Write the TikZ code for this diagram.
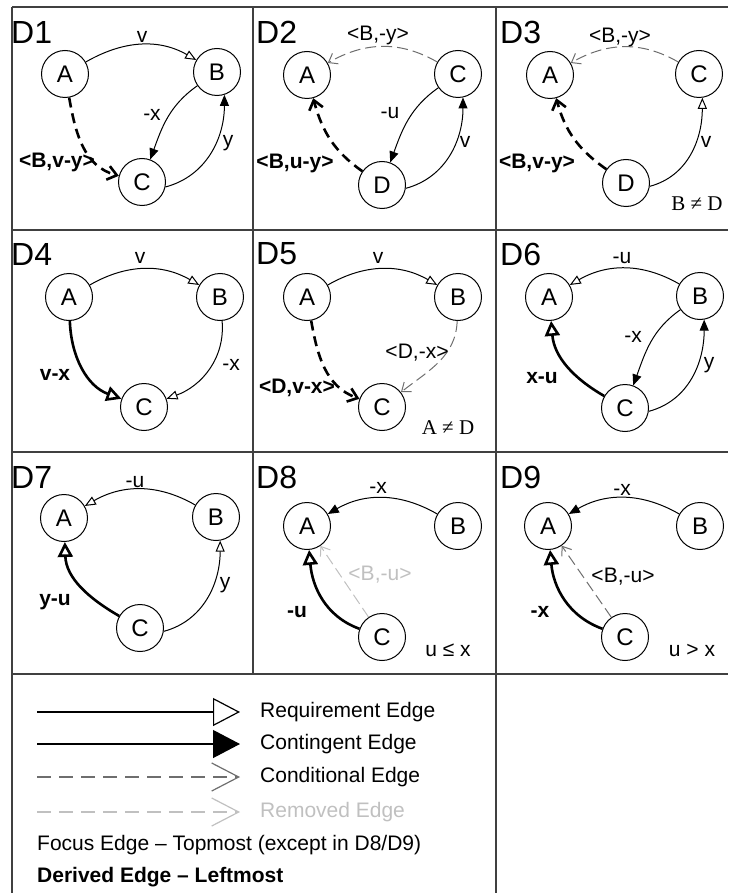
\documentclass[tikz,border=0pt]{standalone}
\usepackage{fontspec}
\setmainfont{Liberation Sans}
\newfontfamily\serifface{Liberation Serif}
\usetikzlibrary{arrows.meta}
\definecolor{framegray}{HTML}{404040}
\definecolor{condgray}{HTML}{6E6E6E}
\definecolor{remgray}{HTML}{C0C0C0}
\begin{document}
\begin{tikzpicture}[x=1pt,y=1pt,
  vtx/.style={circle, draw, line width=1pt, minimum size=47pt, inner sep=0pt, font=\fontsize{24}{26}\selectfont},
  ttl/.style={anchor=west, inner sep=0pt, font=\fontsize{32}{34}\selectfont},
  lab/.style={inner sep=0pt, font=\fontsize{21}{23}\selectfont},
  blab/.style={inner sep=0pt, font=\fontsize{21}{23}\selectfont\bfseries},
  slab/.style={inner sep=0pt, font=\fontsize{21}{23}\serifface},
  legtxt/.style={anchor=west, inner sep=0pt, font=\fontsize{21}{23}\selectfont},
  frameline/.style={draw=framegray, line width=1.4pt},
  reqE/.style={line width=1pt, -{Triangle[open,length=11pt,width=9pt]}},
  contE/.style={line width=1pt, -{Triangle[length=11pt,width=9pt]}},
  condE/.style={line width=1pt, draw=condgray, dash pattern=on 11pt off 5pt, -{Straight Barb[length=8pt,width=12pt]}},
  remE/.style={line width=1pt, draw=remgray, dash pattern=on 11pt off 5pt, -{Straight Barb[length=8pt,width=12pt]}},
  dreqE/.style={line width=2.6pt, -{Triangle[open,length=15pt,width=15pt]}},
  dcondE/.style={line width=2.6pt, dash pattern=on 10pt off 6pt, -{Straight Barb[length=9pt,width=14pt]}}
]
\useasboundingbox (0,0) rectangle (728,-893);

% frame
\coordinate (f1) at (12,-7);   \coordinate (f2) at (728,-7);
\coordinate (f3) at (12,-230); \coordinate (f4) at (728,-230);
\coordinate (f5) at (12,-452); \coordinate (f6) at (728,-452);
\coordinate (f7) at (12,-674); \coordinate (f8) at (728,-674);
\coordinate (f9) at (12,-893);
\coordinate (g1) at (253,-7);  \coordinate (g2) at (253,-674);
\coordinate (g3) at (496,-7);  \coordinate (g4) at (496,-893);
\draw[frameline] (f1) -- (f2);
\draw[frameline] (f3) -- (f4);
\draw[frameline] (f5) -- (f6);
\draw[frameline] (f7) -- (f8);
\draw[frameline] (f1) -- (f9);
\draw[frameline] (g1) -- (g2);
\draw[frameline] (g3) -- (g4);

% titles
\node[ttl] (t1) at (11,-32) {D1};
\node[ttl] (t2) at (256,-32) {D2};
\node[ttl] (t3) at (500,-32) {D3};
\node[ttl] (t4) at (11,-254) {D4};
\node[ttl] (t5) at (256,-254) {D5};
\node[ttl] (t6) at (500,-254) {D6};
\node[ttl] (t7) at (11,-477) {D7};
\node[ttl] (t8) at (256,-477) {D8};
\node[ttl] (t9) at (500,-477) {D9};

% ---------- D1
\node[vtx] (A1) at (65,-74) {A};
\node[vtx] (B1) at (217,-72) {B};
\node[vtx] (C1) at (142,-182) {C};
\draw[reqE] (A1) to[out=30,in=150] (B1);
\draw[contE] (B1) to[out=-145,in=70] (C1);
\draw[contE] (C1.-12) to[out=15,in=-90] (B1.-72);
\draw[dcondE] (A1) to[out=-80,in=165] (C1);
\node[lab] (l1a) at (142,-37) {v};
\node[lab] (l1b) at (152,-115) {-x};
\node[lab] (l1c) at (228,-143) {y};
\node[blab] (l1d) at (57,-162) {<B,v-y>};

% ---------- D2
\node[vtx] (A2) at (307,-75) {A};
\node[vtx] (C2) at (458,-74) {C};
\node[vtx] (D2n) at (382,-185) {D};
\draw[condE] (C2) to[out=150,in=30] (A2);
\draw[contE] (C2) to[out=-145,in=70] (D2n);
\draw[contE] (D2n.-8) to[out=15,in=-90] (C2.-78);
\draw[dcondE] (D2n) to[out=145,in=-75] (A2);
\node[lab] (l2a) at (378,-35) {<B,-y>};
\node[lab] (l2b) at (390,-113) {-u};
\node[lab] (l2c) at (465,-142) {v};
\node[blab] (l2d) at (295,-163) {<B,u-y>};

% ---------- D3
\node[vtx] (A3) at (550,-75) {A};
\node[vtx] (C3) at (699,-74) {C};
\node[vtx] (D3n) at (626,-183) {D};
\draw[condE] (C3) to[out=150,in=30] (A3);
\draw[reqE] (D3n.-8) to[out=15,in=-90] (C3.-82);
\draw[dcondE] (D3n) to[out=145,in=-75] (A3);
\node[lab] (l3a) at (620,-37) {<B,-y>};
\node[lab] (l3b) at (706,-142) {v};
\node[blab] (l3c) at (537,-163) {<B,v-y>};
\node[slab] (l3d) at (697,-204) {B ≠ D};

% ---------- D4
\node[vtx] (A4) at (69,-297) {A};
\node[vtx] (B4) at (220,-297) {B};
\node[vtx] (C4) at (144,-407) {C};
\draw[reqE] (A4) to[out=30,in=150] (B4);
\draw[reqE] (B4) to[out=-85,in=20] (C4);
\draw[dreqE] (A4) to[out=-88,in=160] (C4);
\node[lab] (l4a) at (140,-258) {v};
\node[lab] (l4b) at (231,-365) {-x};
\node[blab] (l4c) at (55,-375) {v-x};

% ---------- D5
\node[vtx] (A5) at (307,-297) {A};
\node[vtx] (B5) at (458,-297) {B};
\node[vtx] (C5) at (382,-407) {C};
\draw[reqE] (A5) to[out=30,in=150] (B5);
\draw[condE] (B5) to[out=-92,in=38] (C5);
\draw[dcondE] (A5) to[out=-80,in=160] (C5);
\node[lab] (l5a) at (378,-258) {v};
\node[lab] (l5b) at (417,-353) {<D,-x>};
\node[blab] (l5c) at (297,-388) {<D,v-x>};
\node[slab] (l5d) at (448,-428) {A ≠ D};

% ---------- D6
\node[vtx] (A6) at (549,-297) {A};
\node[vtx] (B6) at (700,-296) {B};
\node[vtx] (C6) at (625,-408) {C};
\draw[reqE] (B6) to[out=150,in=30] (A6);
\draw[contE] (B6) to[out=-145,in=70] (C6);
\draw[contE] (C6.-8) to[out=15,in=-90] (B6.-80);
\draw[dreqE] (C6) to[out=150,in=-85] (A6);
\node[lab] (l6a) at (622,-258) {-u};
\node[lab] (l6b) at (633,-337) {-x};
\node[lab] (l6c) at (709,-365) {y};
\node[blab] (l6d) at (542,-378) {x-u};

% ---------- D7
\node[vtx] (A7) at (64,-518) {A};
\node[vtx] (B7) at (216,-517) {B};
\node[vtx] (C7) at (140,-628) {C};
\draw[reqE] (B7) to[out=150,in=30] (A7);
\draw[reqE] (C7.-8) to[out=15,in=-90] (B7.-80);
\draw[dreqE] (C7) to[out=150,in=-88] (A7);
\node[lab] (l7a) at (135,-482) {-u};
\node[lab] (l7b) at (225,-585) {y};
\node[blab] (l7c) at (55,-602) {y-u};

% ---------- D8
\node[vtx] (A8) at (307,-526) {A};
\node[vtx] (B8) at (458,-526) {B};
\node[vtx] (C8) at (382,-637) {C};
\draw[contE] (B8) to[out=150,in=30] (A8);
\draw[remE] (C8) -- (A8);
\draw[dreqE] (C8) to[out=160,in=-85] (A8);
\node[lab] (l8a) at (378,-488) {-x};
\node[lab, text=remgray] (l8b) at (380,-575) {<B,-u>};
\node[blab] (l8c) at (297,-612) {-u};
\node[lab] (l8d) at (448,-650) {u ≤ x};

% ---------- D9
\node[vtx] (A9) at (548,-526) {A};
\node[vtx] (B9) at (700,-526) {B};
\node[vtx] (C9) at (625,-637) {C};
\draw[contE] (B9) to[out=150,in=30] (A9);
\draw[condE] (C9) -- (A9);
\draw[dreqE] (C9) to[out=160,in=-85] (A9);
\node[lab] (l9a) at (622,-490) {-x};
\node[lab] (l9b) at (623,-577) {<B,-u>};
\node[blab] (l9c) at (540,-612) {-x};
\node[lab] (l9d) at (692,-650) {u > x};

% ---------- legend
\coordinate (r0) at (37,-712);  \coordinate (r1) at (240,-712);
\coordinate (k0) at (37,-744);  \coordinate (k1) at (240,-744);
\coordinate (c0) at (37,-777);  \coordinate (c1) at (240,-777);
\coordinate (m0) at (37,-812);  \coordinate (m1) at (240,-812);
\draw[line width=1.2pt, -{Triangle[open,length=27pt,width=28pt]}] (r0) -- (r1);
\draw[line width=1.2pt, -{Triangle[length=27pt,width=28pt]}] (k0) -- (k1);
\draw[line width=1.2pt, draw=condgray, dash pattern=on 14pt off 8pt, -{Straight Barb[length=27pt,width=28pt]}] (c0) -- (c1);
\draw[line width=1.2pt, draw=remgray, dash pattern=on 14pt off 8pt, -{Straight Barb[length=27pt,width=28pt]}] (m0) -- (m1);
\node[legtxt] (lg1) at (260,-712) {Requirement Edge};
\node[legtxt] (lg2) at (260,-744) {Contingent Edge};
\node[legtxt] (lg3) at (260,-777) {Conditional Edge};
\node[legtxt, text=remgray] (lg4) at (260,-812) {Removed Edge};
\node[legtxt] (lg5) at (37,-845) {Focus Edge – Topmost (except in D8/D9)};
\node[legtxt, font=\fontsize{21}{23}\selectfont\bfseries] (lg6) at (37,-877) {Derived Edge – Leftmost};
\end{tikzpicture}
\end{document}
